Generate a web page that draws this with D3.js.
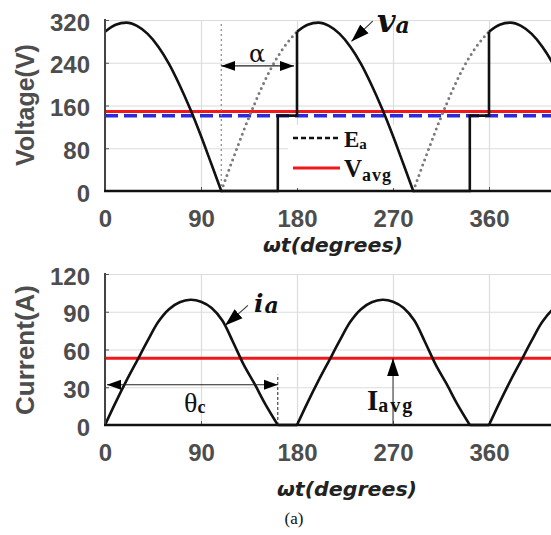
<!DOCTYPE html>
<html>
<head>
<meta charset="utf-8">
<script src="https://cdnjs.cloudflare.com/ajax/libs/d3/7.8.5/d3.min.js"></script>
<style>
  body { margin: 0; background: #fff; }
  svg { display: block; }
</style>
</head>
<body>
<div id="chart"></div>
<script>
// ---- data ----
let xTicks = [0, 90, 180, 270, 360];
let vTicks = [0, 80, 160, 240, 320];
let iTicks = [0, 30, 60, 90, 120];

// load voltage v_a (V) : conducting arcs
let vaArc1 = [[0,298],[10,311],[20,315],[30,309],[40,294],[50,270],[60,238],[70,198],[80,153],[90,103],[100,49],[109,0]];
let vaArc2 = [[180,298],[190,311],[200,315],[210,309],[220,294],[230,270],[240,238],[250,198],[260,153],[270,103],[280,49],[289,0]];
let vaArc3 = [[360,298],[370,311],[380,315],[390,309],[400,294],[410,270],[420,238],[430,198],[440,153],[450,103]];
// freewheel / off intervals
let vaOff1 = [[109,0],[162,0],[162,141],[180,141],[180,298]];
let vaOff2 = [[289,0],[342,0],[342,141],[360,141],[360,298]];
// dotted source voltage (not applied)
let vaDot1 = [[109,0],[120,60],[130,113],[140,162],[150,207],[160,245],[170,275],[180,298]];
let vaDot2 = [[289,0],[300,60],[310,113],[320,162],[330,207],[340,245],[350,275],[360,298]];

let Ea = 141, Vavg = 149;

// armature current i_a (A)
let iaArc1 = [[0,0],[10,18],[20,35],[30,51],[40,67],[50,82],[60,92],[70,97.5],[80,99.5],[90,98],[100,93],[110,83],[120,66],[130,48],[140,33],[150,17],[162,0]];
let iaArc2 = [[180,0],[190,18],[200,35],[210,51],[220,67],[230,82],[240,92],[250,97.5],[260,99.5],[270,98],[280,93],[290,83],[300,66],[310,48],[320,33],[330,17],[342,0]];
let iaArc3 = [[360,0],[370,18],[380,35],[390,51],[400,67],[410,82],[420,92],[430,97.5],[440,99.5],[450,98]];
let iaOff = [[[162,0],[180,0]], [[342,0],[360,0]]];

let Iavg = 53;
let alphaFrom = 109, alphaTo = 180, thetaC = 162;

// ---- drawing ----
let width = 551, height = 535;
let x = d3.scaleLinear().domain([0, 450]).range([105, 585]);
let yV = d3.scaleLinear().domain([0, 320]).range([191, 20]);
let yI = d3.scaleLinear().domain([0, 120]).range([425, 274]);

let svg = d3.select("#chart").append("svg")
  .attr("width", width)
  .attr("height", height);

let defs = svg.append("defs");
defs.append("marker").attr("id", "arr")
  .attr("viewBox", "0 -6 14 12").attr("refX", 14).attr("refY", 0)
  .attr("markerWidth", 14).attr("markerHeight", 12)
  .attr("markerUnits", "userSpaceOnUse")
  .attr("orient", "auto-start-reverse")
  .append("path").attr("d", "M0,-5L14,0L0,5Z").attr("fill", "#000");
defs.append("marker").attr("id", "arrBig")
  .attr("viewBox", "0 -7 18 14").attr("refX", 18).attr("refY", 0)
  .attr("markerWidth", 18).attr("markerHeight", 14)
  .attr("markerUnits", "userSpaceOnUse")
  .attr("orient", "auto")
  .append("path").attr("d", "M0,-6L18,0L0,6Z").attr("fill", "#000");

function panel(y, ticks, label, labelY, labelSize) {
  let y0 = y.range()[0], y1 = y.range()[1];

  // grid
  let gx = svg.append("g").attr("transform", `translate(0,${y0})`)
    .call(d3.axisBottom(x).tickValues(xTicks).tickSize(-(y0 - y1)).tickFormat(""));
  gx.select(".domain").remove();
  gx.selectAll("line").attr("stroke", "#dcdcdc").attr("stroke-width", 1.2);

  let gy = svg.append("g").attr("transform", `translate(105,0)`)
    .call(d3.axisLeft(y).tickValues(ticks).tickSize(-(width - 105)).tickFormat(""));
  gy.select(".domain").remove();
  gy.selectAll("line").attr("stroke", "#dcdcdc").attr("stroke-width", 1.2);

  // small inner ticks
  let tx = svg.append("g").attr("transform", `translate(0,${y0})`)
    .call(d3.axisBottom(x).tickValues(xTicks).tickSize(-4).tickFormat(""));
  tx.select(".domain").remove();
  tx.selectAll("line").attr("stroke", "#555");
  let ty = svg.append("g").attr("transform", `translate(105,0)`)
    .call(d3.axisLeft(y).tickValues(ticks).tickSize(-4).tickFormat(""));
  ty.select(".domain").remove();
  ty.selectAll("line").attr("stroke", "#555");

  // tick labels
  let lx = svg.append("g").attr("transform", `translate(0,${y0})`)
    .call(d3.axisBottom(x).tickValues(xTicks).tickSize(0).tickPadding(19));
  lx.select(".domain").remove();
  let ly = svg.append("g").attr("transform", `translate(105,0)`)
    .call(d3.axisLeft(y).tickValues(ticks).tickSize(0).tickPadding(15));
  ly.select(".domain").remove();
  [lx, ly].forEach(g => g.selectAll("text")
    .attr("font-family", "'Liberation Sans', Arial, sans-serif")
    .attr("font-weight", "bold")
    .attr("font-size", 24)
    .attr("fill", "#4d4d4d"));
  ly.selectAll("text").attr("dy", "0.42em");

  svg.append("text")
    .attr("transform", `translate(25,${labelY}) rotate(-90)`)
    .attr("text-anchor", "middle")
    .attr("dominant-baseline", "central")
    .attr("font-family", "'Liberation Sans', Arial, sans-serif")
    .attr("font-weight", "bold")
    .attr("font-size", labelSize)
    .attr("fill", "#4d4d4d")
    .text(label);
}

function axisLines(y) {
  let y0 = y.range()[0], y1 = y.range()[1];
  svg.append("line").attr("x1", 105).attr("x2", 105).attr("y1", y1 - 1).attr("y2", y0)
    .attr("stroke", "#444").attr("stroke-width", 2);
  svg.append("line").attr("x1", 104).attr("x2", width).attr("y1", y0).attr("y2", y0)
    .attr("stroke", "#111").attr("stroke-width", 2.5);
}

function xLabel(cx, base) {
  svg.append("text")
    .attr("x", cx).attr("y", base)
    .attr("text-anchor", "middle")
    .attr("font-family", "'DejaVu Sans', sans-serif")
    .attr("font-weight", "bold")
    .attr("font-style", "italic")
    .attr("font-size", 20)
    .attr("fill", "#222")
    .attr("textLength", 140)
    .attr("lengthAdjust", "spacingAndGlyphs")
    .text("ωt(degrees)");
}

panel(yV, vTicks, "Voltage(V)", 105, 25);
panel(yI, iTicks, "Current(A)", 350, 26);

let lineV = d3.line().x(d => x(d[0])).y(d => yV(d[1]));
let lineI = d3.line().x(d => x(d[0])).y(d => yI(d[1]));
let smoothV = d3.line().x(d => x(d[0])).y(d => yV(d[1])).curve(d3.curveMonotoneX);
let smoothI = d3.line().x(d => x(d[0])).y(d => yI(d[1])).curve(d3.curveCatmullRom);

// ---- top panel ----
// Ea (dashed blue) and Vavg (red)
svg.append("line").attr("x1", x(0)).attr("x2", width)
  .attr("y1", yV(Ea)).attr("y2", yV(Ea))
  .attr("stroke", "#2b2bdc").attr("stroke-width", 3.5).attr("stroke-dasharray", "13,6");
svg.append("line").attr("x1", x(0)).attr("x2", width)
  .attr("y1", yV(Vavg)).attr("y2", yV(Vavg))
  .attr("stroke", "#f01818").attr("stroke-width", 3);

// legend box
let leg = svg.append("g");
leg.append("rect").attr("x", 288).attr("y", 125).attr("width", 112).attr("height", 63).attr("fill", "#fff");
leg.append("line").attr("x1", 293).attr("x2", 340).attr("y1", 138).attr("y2", 138)
  .attr("stroke", "#111").attr("stroke-width", 2.5).attr("stroke-dasharray", "5,3");
leg.append("line").attr("x1", 293).attr("x2", 340).attr("y1", 168).attr("y2", 168)
  .attr("stroke", "#f01818").attr("stroke-width", 3);
let tE = leg.append("text").attr("x", 344).attr("y", 147)
  .attr("font-family", "'Liberation Serif', 'Times New Roman', serif").attr("font-weight", "bold").attr("fill", "#111");
tE.append("tspan").attr("font-size", 23).text("E");
tE.append("tspan").attr("font-size", 15).attr("dy", 2).text("a");
let tV = leg.append("text").attr("x", 344).attr("y", 177)
  .attr("font-family", "'Liberation Serif', 'Times New Roman', serif").attr("font-weight", "bold").attr("fill", "#111");
tV.append("tspan").attr("font-size", 25).text("V");
tV.append("tspan").attr("font-size", 18).attr("dy", 4).attr("letter-spacing", 1).text("avg");

// dotted vertical at firing reference
svg.append("line").attr("x1", x(alphaFrom)).attr("x2", x(alphaFrom))
  .attr("y1", yV(0)).attr("y2", yV(315))
  .attr("stroke", "#888").attr("stroke-width", 1.2).attr("stroke-dasharray", "2,3");

// dotted source voltage
[vaDot1, vaDot2].forEach(d => {
  svg.append("path").attr("d", smoothV(d))
    .attr("fill", "none").attr("stroke", "#7a7a7a").attr("stroke-width", 3)
    .attr("stroke-linecap", "round").attr("stroke-dasharray", "0,5.5");
});

// load voltage
[vaArc1, vaArc2, vaArc3].forEach(d => {
  svg.append("path").attr("d", smoothV(d))
    .attr("fill", "none").attr("stroke", "#111").attr("stroke-width", 2.6);
});
[vaOff1, vaOff2].forEach(d => {
  svg.append("path").attr("d", lineV(d))
    .attr("fill", "none").attr("stroke", "#111").attr("stroke-width", 2.6);
});

axisLines(yV);

// alpha arrow
svg.append("line").attr("x1", x(alphaFrom)).attr("x2", x(alphaTo) - 3)
  .attr("y1", yV(234)).attr("y2", yV(234))
  .attr("stroke", "#222").attr("stroke-width", 1.2)
  .attr("marker-start", "url(#arr)").attr("marker-end", "url(#arr)");
svg.append("text").attr("x", 257).attr("y", 62).attr("text-anchor", "middle")
  .attr("font-family", "'DejaVu Serif', serif").attr("font-size", 24).attr("fill", "#111")
  .text("α");

// v_a label
svg.append("line").attr("x1", x(251)).attr("y1", yV(318)).attr("x2", x(231)).attr("y2", yV(280))
  .attr("stroke", "#333").attr("stroke-width", 1.1).attr("marker-end", "url(#arrBig)");
let tva = svg.append("text").attr("x", 377).attr("y", 32)
  .attr("font-family", "'DejaVu Serif', serif").attr("font-weight", "bold")
  .attr("font-style", "italic").attr("fill", "#111");
tva.append("tspan").attr("font-size", 32).text("v");
tva.append("tspan").attr("font-size", 22).attr("dy", 1).text("a");

xLabel(333, 252);

// ---- bottom panel ----
svg.append("line").attr("x1", x(0)).attr("x2", width)
  .attr("y1", yI(Iavg)).attr("y2", yI(Iavg))
  .attr("stroke", "#f01818").attr("stroke-width", 3);

[iaArc1, iaArc2, iaArc3].forEach(d => {
  svg.append("path").attr("d", smoothI(d))
    .attr("fill", "none").attr("stroke", "#111").attr("stroke-width", 2.6);
});
iaOff.forEach(d => {
  svg.append("path").attr("d", lineI(d))
    .attr("fill", "none").attr("stroke", "#111").attr("stroke-width", 2.6);
});

axisLines(yI);

// theta_c arrow
svg.append("line").attr("x1", x(thetaC)).attr("x2", x(thetaC))
  .attr("y1", yI(0)).attr("y2", yI(40))
  .attr("stroke", "#222").attr("stroke-width", 1).attr("stroke-dasharray", "3,2");
svg.append("line").attr("x1", x(0) + 2).attr("x2", x(thetaC))
  .attr("y1", yI(32)).attr("y2", yI(32))
  .attr("stroke", "#222").attr("stroke-width", 1.2)
  .attr("marker-start", "url(#arr)").attr("marker-end", "url(#arr)");
let ttc = svg.append("text").attr("x", 184).attr("y", 412)
  .attr("font-family", "'Liberation Serif', 'Times New Roman', serif").attr("fill", "#111");
ttc.append("tspan").attr("font-size", 28).text("θ");
ttc.append("tspan").attr("font-size", 18).attr("font-weight", "bold").attr("dy", 1).text("c");

// i_a label
svg.append("line").attr("x1", x(134)).attr("y1", yI(95)).attr("x2", x(112.5)).attr("y2", yI(79))
  .attr("stroke", "#333").attr("stroke-width", 1.1).attr("marker-end", "url(#arrBig)");
let tia = svg.append("text").attr("x", 254).attr("y", 312)
  .attr("font-family", "'DejaVu Serif', serif").attr("font-weight", "bold")
  .attr("font-style", "italic").attr("fill", "#111");
tia.append("tspan").attr("font-size", 25).text("i");
tia.append("tspan").attr("font-size", 22).attr("dx", 1).attr("dy", 1).text("a");

// I_avg arrow
svg.append("line").attr("x1", x(270)).attr("x2", x(270))
  .attr("y1", yI(0)).attr("y2", yI(Iavg))
  .attr("stroke", "#333").attr("stroke-width", 1)
  .attr("marker-end", "url(#arrBig)");
let tIa = svg.append("text").attr("x", 367).attr("y", 410)
  .attr("font-family", "'Liberation Serif', 'Times New Roman', serif").attr("font-weight", "bold")
  .attr("fill", "#111");
tIa.append("tspan").attr("font-size", 29).text("I");
tIa.append("tspan").attr("font-size", 20).attr("dy", 2).attr("letter-spacing", 2).text("avg");

xLabel(347, 496);

// caption
svg.append("text").attr("x", 294).attr("y", 524).attr("text-anchor", "middle")
  .attr("font-family", "'Liberation Serif', 'Times New Roman', serif")
  .attr("font-size", 17).attr("fill", "#111")
  .text("(a)");
</script>
</body>
</html>
